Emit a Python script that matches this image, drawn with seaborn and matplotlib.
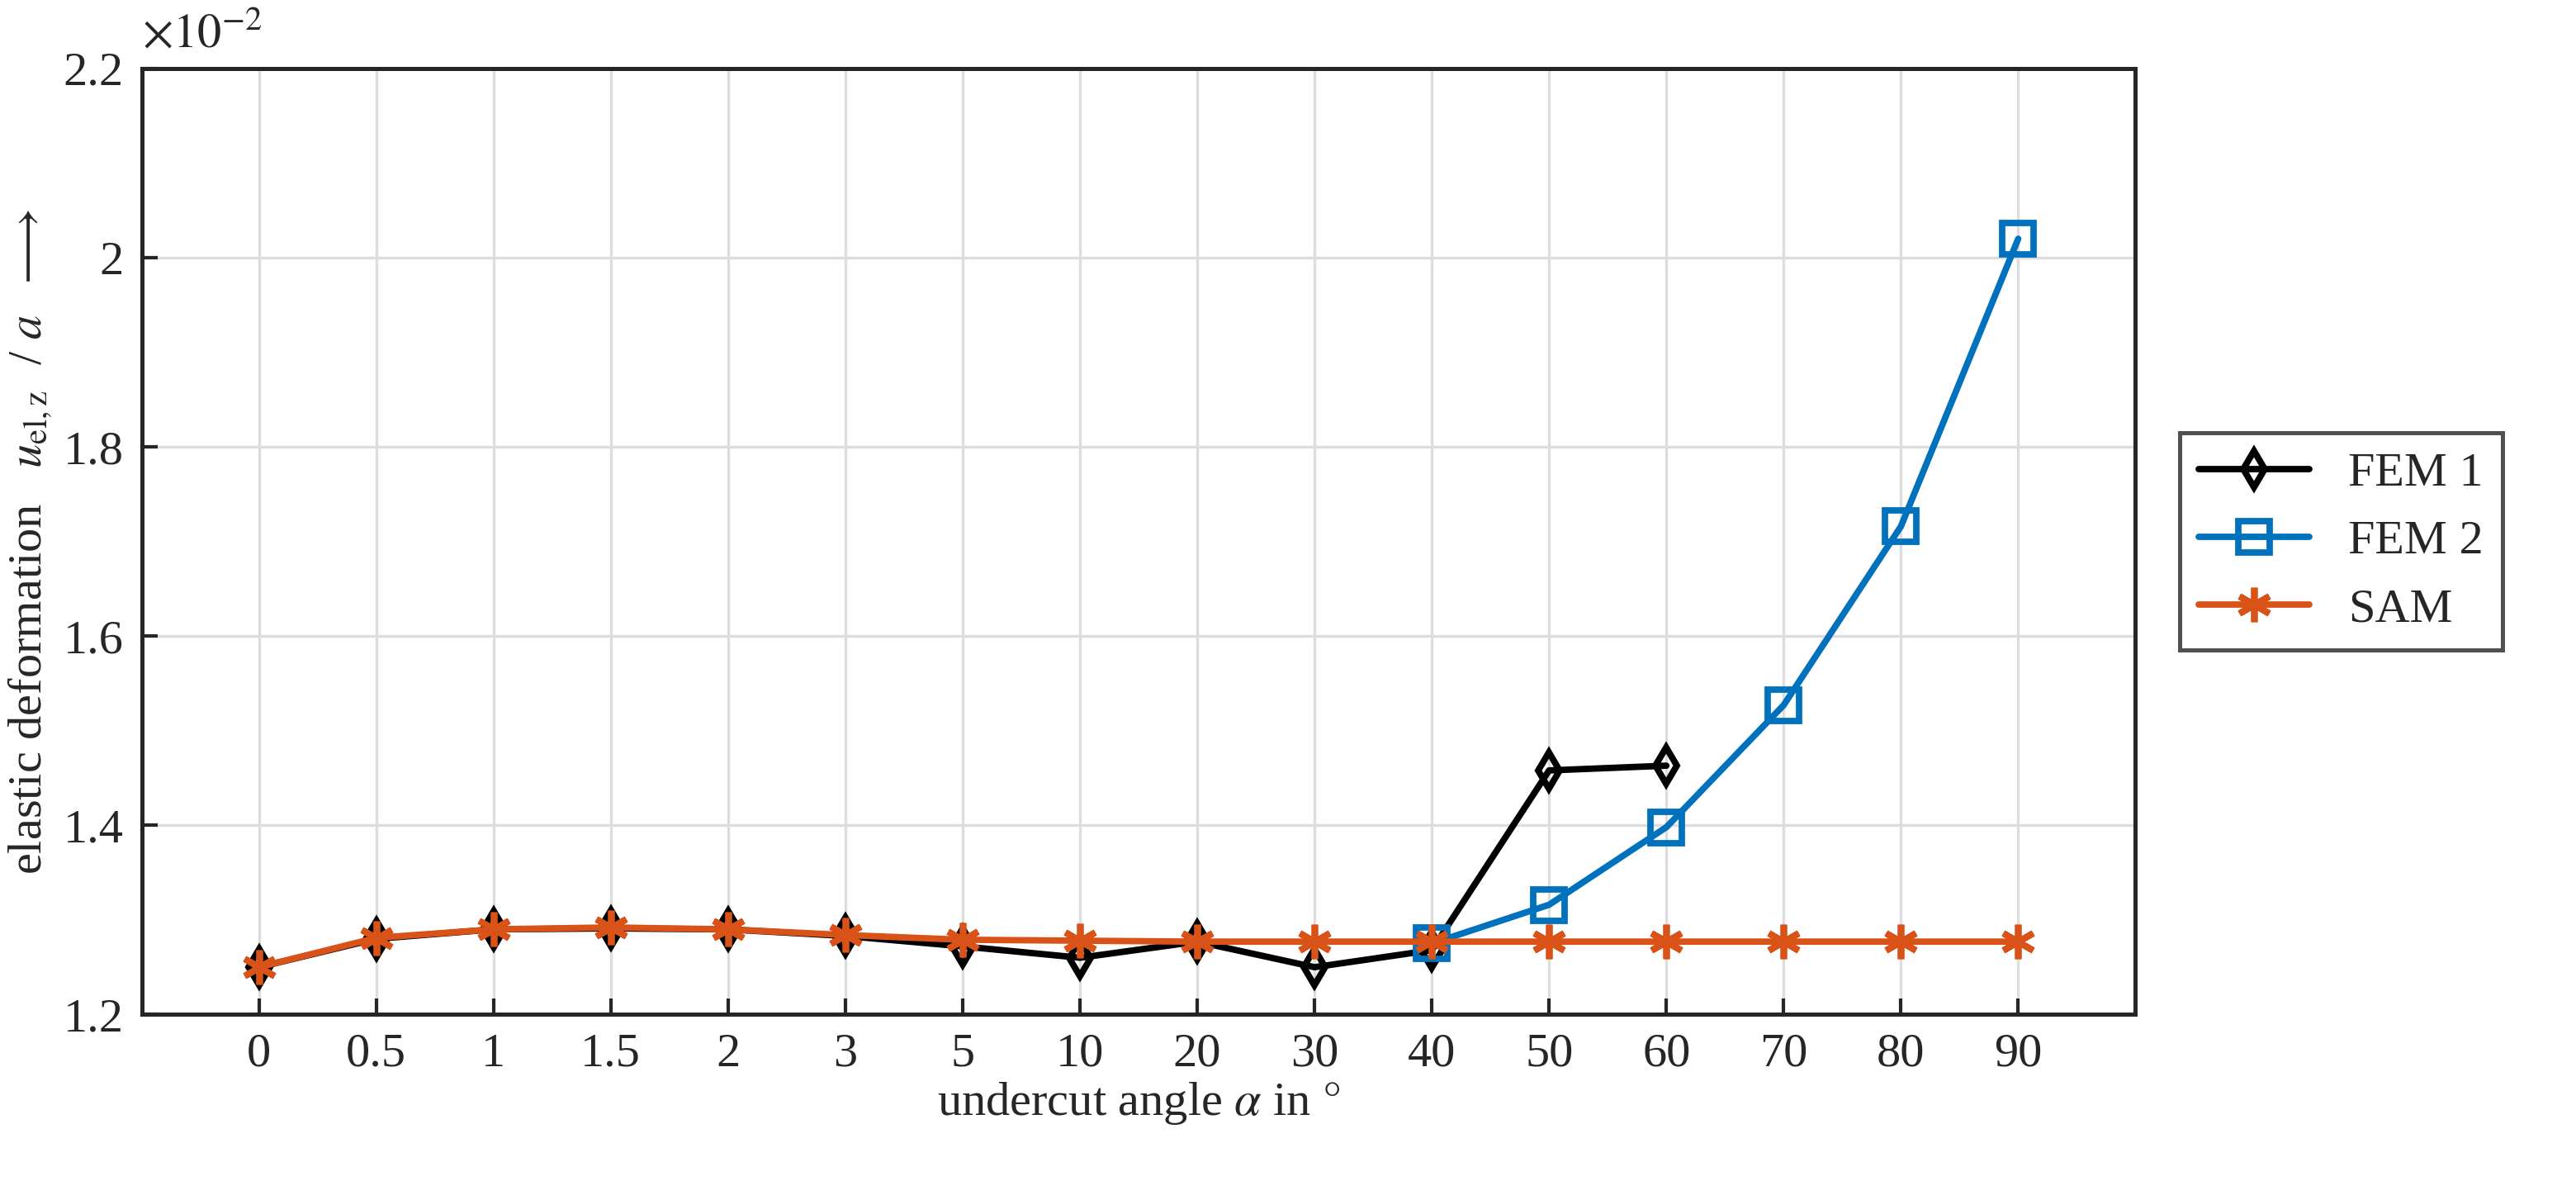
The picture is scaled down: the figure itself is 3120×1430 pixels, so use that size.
import numpy as np
import pandas as pd
import seaborn as sns
import matplotlib.pyplot as plt

# undercut angles (categorical axis)
angles = ['0', '0.5', '1', '1.5', '2', '3', '5', '10', '20', '30', '40', '50', '60', '70', '80', '90']
fem1 = [1.250, 1.280, 1.290, 1.291, 1.290, 1.283, 1.272, 1.260, 1.277, 1.250, 1.268, 1.458, 1.463]
fem2_angles = ['40', '50', '60', '70', '80', '90']
fem2 = [1.275, 1.316, 1.398, 1.527, 1.716, 2.020]
sam = [1.250, 1.281, 1.290, 1.292, 1.290, 1.284, 1.279, 1.278, 1.277, 1.277, 1.277,
       1.277, 1.277, 1.277, 1.277, 1.277]

pos = {a: i for i, a in enumerate(angles)}
df = pd.concat([
    pd.DataFrame({'x': [pos[a] for a in angles[:len(fem1)]], 'y': fem1, 'series': 'FEM 1'}),
    pd.DataFrame({'x': [pos[a] for a in fem2_angles], 'y': fem2, 'series': 'FEM 2'}),
    pd.DataFrame({'x': [pos[a] for a in angles], 'y': sam, 'series': 'SAM'}),
])

sns.set_style('white')
plt.rcParams['font.family'] = ['Liberation Serif', 'DejaVu Serif']
plt.rcParams['mathtext.fontset'] = 'stix'

fig = plt.figure(figsize=(15.6, 7.15), dpi=200)
ax = fig.add_axes([0.055, 0.141, 0.774, 0.801])

colors = {'FEM 1': 'black', 'FEM 2': '#0072BD', 'SAM': '#D95319'}
markers = {'FEM 1': 'd', 'FEM 2': 's', 'SAM': (6, 2, 0)}
sizes = {'FEM 1': 11, 'FEM 2': 14, 'SAM': 15}
for name in ['FEM 1', 'FEM 2', 'SAM']:
    sub = df[df.series == name]
    sns.lineplot(data=sub, x='x', y='y', ax=ax, color=colors[name], lw=2.8,
                 marker=markers[name], markersize=sizes[name],
                 markerfacecolor='none' if name != 'SAM' else colors[name],
                 markeredgecolor=colors[name], markeredgewidth=2.8, label=name)

ax.set_xlim(-1, len(angles))
ax.set_ylim(1.2, 2.2)
ax.set_xticks(range(len(angles)))
ax.set_xticklabels(angles)
yt = [1.2, 1.4, 1.6, 1.8, 2.0, 2.2]
ax.set_yticks(yt)
ax.set_yticklabels(['1.2', '1.4', '1.6', '1.8', '2', '2.2'])
ax.grid(True, color='#dddddd', lw=1.2)
ax.tick_params(labelsize=21, direction='in', length=7, width=1.5, color='#262626',
               bottom=True, left=True, pad=8)
for s in ax.spines.values():
    s.set_color('#262626')
    s.set_linewidth(1.8)
ax.text(0.0, 1.012, r'$\times 10^{-2}$', transform=ax.transAxes, fontsize=21, va='bottom')
ax.set_xlabel(r'undercut angle $\alpha$ in $\degree$', fontsize=21, labelpad=2)
ax.set_ylabel(r'elastic deformation   $u_{\mathrm{el,z}}$  / $a$  $\longrightarrow$', fontsize=21)

leg = ax.legend(loc='center left', bbox_to_anchor=(1.01, 0.5), fontsize=21, frameon=True,
                fancybox=False, edgecolor='#262626', handlelength=2.3, borderpad=0.4)
leg.get_frame().set_linewidth(1.8)

fig.savefig('out.png', dpi=200)
